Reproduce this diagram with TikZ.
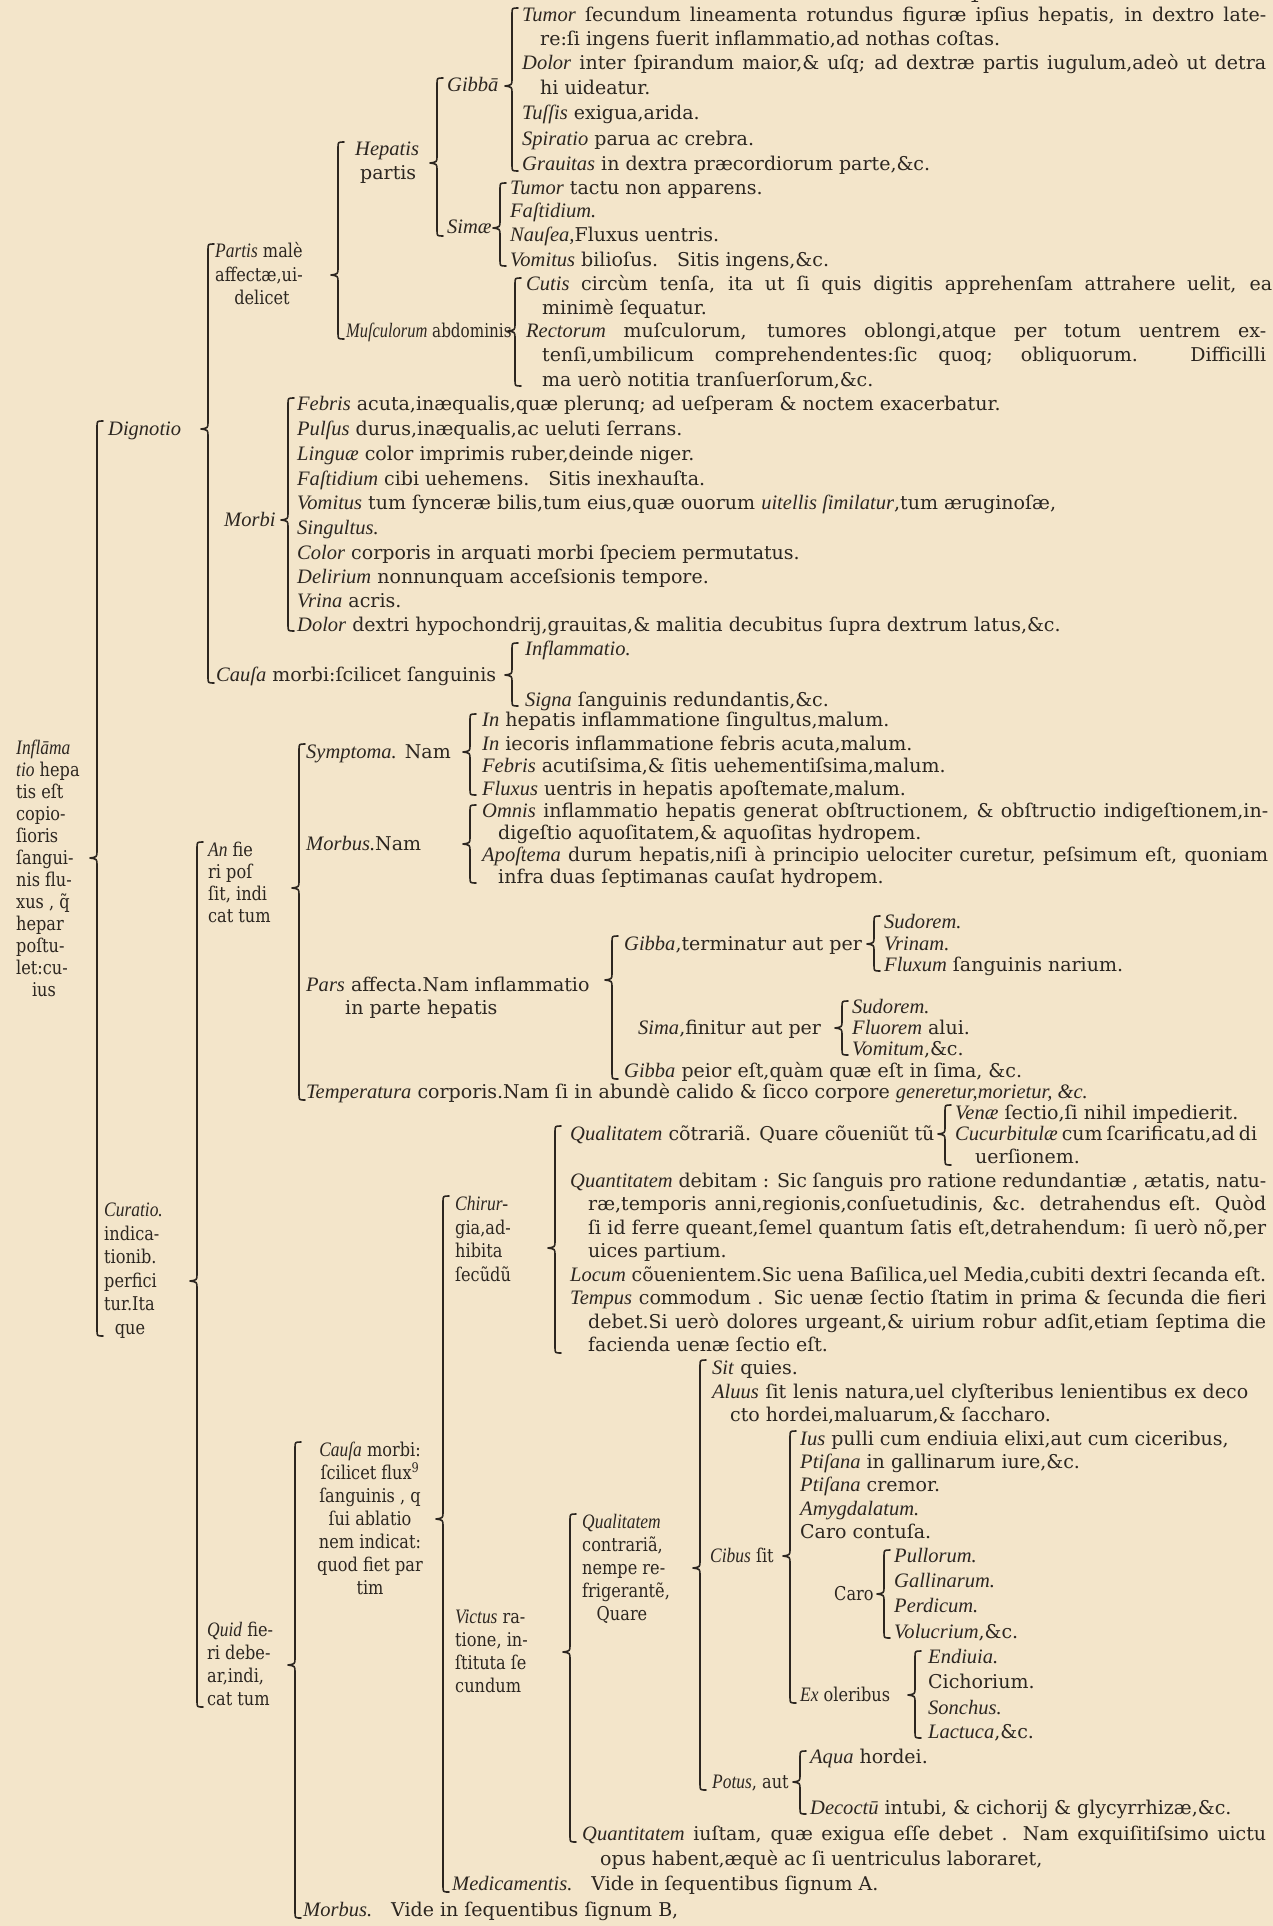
\documentclass[tikz,border=0pt]{standalone}
\usepackage{fontspec}
\usepackage{graphicx}
\setmainfont{DejaVu Serif}[ItalicFont={Liberation Serif Italic},ItalicFeatures={Scale=1.08}]
\definecolor{paper}{RGB}{243,229,202}
\definecolor{ink}{RGB}{44,38,32}
\newcommand\tfont{\fontsize{19}{22}\selectfont}
\newcommand\nar[1]{\scalebox{0.85}[1]{#1}}
\tikzset{
 tx/.style={anchor=base west,inner sep=0pt,yshift=-6pt,text=ink,font=\tfont},
 tc/.style={tx,anchor=base},
 brc/.style={draw=ink,line width=1.6pt,line cap=round,line join=round}}
\newsavebox\jbox
\newlength\jw
\newcommand\Tx[4]{\node[tx] (#1) at (#2,#3) {#4};}
\newcommand\Cx[4]{\node[tc] (#1) at (#2,#3) {#4};}
\newcommand\Jx[5]{%
 \setlength\jw{\dimexpr #4pt-#2pt\relax}%
 \sbox\jbox{\tfont #5}%
 \ifdim\wd\jbox>\jw
  \node[tx] (#1) at (#2,#3) {\resizebox{\jw}{\height}{\usebox\jbox}};%
 \else
  \node[tx] (#1) at (#2,#3) {\makebox[\jw][s]{#5}};%
 \fi}
\newcommand\Brc[4]{%
 \draw[brc] (#1+6,#2) .. controls (#1,#2) .. (#1,#2+6) -- (#1,#3-7)
   .. controls (#1,#3-1) .. (#1-7,#3) .. controls (#1,#3+1) .. (#1,#3+7)
   -- (#1,#4-6) .. controls (#1,#4) .. (#1+6,#4);}
\begin{document}
\begin{tikzpicture}[x=1pt,y=-1pt]
\useasboundingbox (0,0) rectangle (1273,1926);
\fill[paper] (0,0) rectangle (1273,1926);
\Cx{pg}{975}{-3}{1}
% ---------- Gibba
\Jx{g1}{522}{16}{1266}{\textit{Tumor} ſecundum lineamenta rotundus figuræ ipſius hepatis, in dextro late-}
\Tx{g2}{540}{40}{re:ſi ingens fuerit inflammatio,ad nothas coſtas.}
\Jx{g3}{522}{64}{1266}{\textit{Dolor} inter ſpirandum maior,\& uſq; ad dextræ partis iugulum,adeò ut detra}
\Tx{g4}{540}{89}{hi uideatur.}
\Tx{g5}{522}{114}{\textit{Tuſſis} exigua,arida.}
\Tx{g6}{522}{140}{\textit{Spiratio} parua ac crebra.}
\Tx{g7}{522}{165}{\textit{Grauitas} in dextra præcordiorum parte,\&c.}
\Brc{512}{8}{86}{171}
\Tx{gibba}{447}{86}{\textit{Gibbā}}
% ---------- Sima
\Tx{s1}{510}{189}{\textit{Tumor} tactu non apparens.}
\Tx{s2}{510}{212}{\textit{Faſtidium.}}
\Tx{s3}{510}{236}{\textit{Nauſea,}Fluxus uentris.}
\Tx{s4}{510}{260}{\textit{Vomitus} bilioſus.\quad Sitis ingens,\&c.}
\Brc{500}{183}{228}{266}
\Tx{sima}{447}{228}{\textit{Simæ}}
% ---------- Hepatis
\Brc{437}{78}{163}{236}
\Tx{hep1}{355}{150}{\textit{Hepatis}}
\Tx{hep2}{360}{174}{partis}
% ---------- Musculorum
\Tx{mus}{346}{331}{\scalebox{0.8}[1]{\textit{Muſculorum} abdominis}}
\Brc{515}{278}{331}{386}
\Jx{m1}{526}{284}{1272}{\textit{Cutis} circùm tenſa, ita ut ſi quis digitis apprehenſam attrahere uelit, ea}
\Tx{m2}{542}{308}{minimè ſequatur.}
\Jx{m3}{526}{331}{1266}{\textit{Rectorum} muſculorum, tumores oblongi,atque per totum uentrem ex-}
\Jx{m4}{542}{355}{1266}{tenſi,umbilicum comprehendentes:ſic quoq; obliquorum. Difficilli}
\Tx{m5}{542}{380}{ma uerò notitia tranſuerſorum,\&c.}
% ---------- Partis male affectae
\Brc{338}{142}{275}{339}
\Tx{par1}{215}{252}{\nar{\textit{Partis} malè}}
\Tx{par2}{215}{275}{\nar{affectæ,ui-}}
\Cx{par3}{262}{298}{\nar{delicet}}
% ---------- Morbi
\Tx{morbi}{224}{520}{\textit{Morbi}}
\Brc{288}{398}{520}{631}
\Tx{b1}{297}{404}{\textit{Febris} acuta,inæqualis,quæ plerunq; ad ueſperam \& noctem exacerbatur.}
\Tx{b2}{297}{429}{\textit{Pulſus} durus,inæqualis,ac ueluti ſerrans.}
\Tx{b3}{297}{454}{\textit{Linguæ} color imprimis ruber,deinde niger.}
\Tx{b4}{297}{479}{\textit{Faſtidium} cibi uehemens.\quad Sitis inexhauſta.}
\Tx{b5}{297}{503}{\textit{Vomitus} tum ſynceræ bilis,tum eius,quæ ouorum \textit{uitellis ſimilatur},tum æruginoſæ,}
\Tx{b6}{297}{528}{\textit{Singultus.}}
\Tx{b7}{297}{553}{\textit{Color} corporis in arquati morbi ſpeciem permutatus.}
\Tx{b8}{297}{577}{\textit{Delirium} nonnunquam acceſsionis tempore.}
\Tx{b9}{297}{601}{\textit{Vrina} acris.}
\Tx{b10}{297}{625}{\textit{Dolor} dextri hypochondrij,grauitas,\& malitia decubitus ſupra dextrum latus,\&c.}
% ---------- Causa (dignotio)
\Tx{cau}{216}{675}{\textit{Cauſa} morbi:ſcilicet ſanguinis}
\Brc{512}{643}{675}{706}
\Tx{c1}{525}{649}{\textit{Inflammatio.}}
\Tx{c2}{525}{700}{\textit{Signa} ſanguinis redundantis,\&c.}
% ---------- Dignotio
\Brc{208}{244}{429}{683}
\Tx{dig}{108}{429}{\textit{Dignotio}}
% ---------- Root
\Brc{97}{421}{858}{1336}
\Tx{r1}{16}{748}{\nar{\textit{Inflāma}}}
\Tx{r2}{16}{770}{\nar{\textit{tio} hepa}}
\Tx{r3}{16}{792}{\nar{tis eſt}}
\Tx{r4}{16}{814}{\nar{copio-}}
\Tx{r5}{16}{836}{\nar{ſioris}}
\Tx{r6}{16}{858}{\nar{ſangui-}}
\Tx{r7}{16}{880}{\nar{nis flu-}}
\Tx{r8}{16}{902}{\nar{xus , q̃}}
\Tx{r9}{16}{924}{\nar{hepar}}
\Tx{r10}{16}{946}{\nar{poſtu-}}
\Tx{r11}{16}{968}{\nar{let:cu-}}
\Cx{r12}{44}{990}{\nar{ius}}
% ---------- Symptoma
\Tx{sym}{306}{752}{\textit{Symptoma.} Nam}
\Brc{470}{714}{752}{795}
\Tx{y1}{482}{720}{\textit{In} hepatis inflammatione ſingultus,malum.}
\Tx{y2}{482}{744}{\textit{In} iecoris inflammatione febris acuta,malum.}
\Tx{y3}{482}{766}{\textit{Febris} acutiſsima,\& ſitis uehementiſsima,malum.}
\Tx{y4}{482}{789}{\textit{Fluxus} uentris in hepatis apoſtemate,malum.}
% ---------- Morbus
\Tx{mor}{306}{844}{\textit{Morbus.}Nam}
\Brc{470}{805}{844}{883}
\Jx{o1}{482}{811}{1268}{\textit{Omnis} inflammatio hepatis generat obſtructionem, \& obſtructio indigeſtionem,in-}
\Tx{o2}{498}{833}{digeſtio aquoſitatem,\& aquoſitas hydropem.}
\Jx{o3}{482}{855}{1268}{\textit{Apoſtema} durum hepatis,niſi à principio uelociter curetur, peſsimum eſt, quoniam}
\Tx{o4}{498}{877}{infra duas ſeptimanas cauſat hydropem.}
% ---------- Pars affecta
\Tx{pa1}{306}{985}{\textit{Pars} affecta.Nam inflammatio}
\Tx{pa2}{345}{1008}{in parte hepatis}
\Brc{612}{936}{980}{1079}
\Tx{gt}{624}{944}{\textit{Gibba},terminatur aut per}
\Brc{874}{916}{944}{971}
\Tx{gt1}{884}{922}{\textit{Sudorem.}}
\Tx{gt2}{884}{944}{\textit{Vrinam.}}
\Tx{gt3}{884}{965}{\textit{Fluxum} ſanguinis narium.}
\Tx{sf}{638}{1028}{\textit{Sima},finitur aut per}
\Brc{842}{1001}{1028}{1055}
\Tx{sf1}{852}{1007}{\textit{Sudorem.}}
\Tx{sf2}{852}{1028}{\textit{Fluorem} alui.}
\Tx{sf3}{852}{1049}{\textit{Vomitum},\&c.}
\Tx{gp}{624}{1071}{\textit{Gibba} peior eſt,quàm quæ eſt in ſima, \&c.}
% ---------- Temperatura
\Tx{tem}{306}{1092}{\textit{Temperatura} corporis.Nam ſi in abundè calido \& ſicco corpore \textit{generetur,morietur, \&c.}}
% ---------- An fieri
\Brc{299}{744}{888}{1100}
\Tx{an1}{208}{850}{\nar{\textit{An} fie}}
\Tx{an2}{208}{872}{\nar{ri poſ}}
\Tx{an3}{208}{894}{\nar{ſit, indi}}
\Tx{an4}{208}{916}{\nar{cat tum}}
% ---------- Curatio
\Brc{197}{842}{1281}{1707}
\Tx{cu1}{104}{1210}{\nar{\textit{Curatio.}}}
\Tx{cu2}{104}{1234}{\nar{indica-}}
\Tx{cu3}{104}{1257}{\nar{tionib.}}
\Tx{cu4}{104}{1281}{\nar{perfici}}
\Tx{cu5}{104}{1304}{\nar{tur.Ita}}
\Cx{cu6}{130}{1328}{\nar{que}}
% ---------- Quid fieri
\Brc{295}{1442}{1665}{1918}
\Tx{q1}{207}{1630}{\nar{\textit{Quid} fie-}}
\Tx{q2}{207}{1653}{\nar{ri debe-}}
\Tx{q3}{207}{1676}{\nar{ar,indi,}}
\Tx{q4}{207}{1699}{\nar{cat tum}}
% ---------- Causa morbi (curatio)
\Cx{k1}{370}{1450}{\nar{\textit{Cauſa} morbi:}}
\Cx{k2}{370}{1473}{\nar{ſcilicet flux\textsuperscript{9}}}
\Cx{k3}{370}{1496}{\nar{ſanguinis , q}}
\Cx{k4}{370}{1519}{\nar{ſui ablatio}}
\Cx{k5}{370}{1542}{\nar{nem indicat:}}
\Cx{k6}{370}{1565}{\nar{quod fiet par}}
\Cx{k7}{370}{1588}{\nar{tim}}
\Brc{443}{1196}{1519}{1892}
% ---------- Chirurgia
\Tx{ch1}{455}{1204}{\nar{\textit{Chirur-}}}
\Tx{ch2}{455}{1228}{\nar{gia,ad-}}
\Tx{ch3}{455}{1251}{\nar{hibita}}
\Tx{ch4}{455}{1275}{\nar{ſecũdũ}}
\Brc{555}{1126}{1248}{1353}
\Tx{ql}{570}{1134}{\textit{Qualitatem} cõtrariã. Quare cõueniũt tũ}
\Brc{945}{1105}{1134}{1165}
\Tx{ql1}{955}{1113}{\textit{Venæ} ſectio,ſi nihil impedierit.}
\Jx{ql2}{955}{1134}{1252}{\textit{Cucurbitulæ} cum ſcarificatu,ad di}
\Tx{ql3}{975}{1157}{uerſionem.}
\Jx{qn1}{570}{1181}{1266}{\textit{Quantitatem} debitam : Sic ſanguis pro ratione redundantiæ , ætatis, natu-}
\Jx{qn2}{588}{1204}{1266}{ræ,temporis anni,regionis,conſuetudinis, \&c. detrahendus eſt. Quòd}
\Jx{qn3}{588}{1228}{1266}{ſi id ferre queant,ſemel quantum ſatis eſt,detrahendum: ſi uerò nõ,per}
\Tx{qn4}{588}{1251}{uices partium.}
\Jx{lo}{570}{1275}{1266}{\textit{Locum} cõuenientem.Sic uena Baſilica,uel Media,cubiti dextri ſecanda eſt.}
\Jx{te1}{570}{1298}{1266}{\textit{Tempus} commodum . Sic uenæ ſectio ſtatim in prima \& ſecunda die fieri}
\Jx{te2}{588}{1322}{1266}{debet.Si uerò dolores urgeant,\& uirium robur adſit,etiam ſeptima die}
\Tx{te3}{588}{1345}{facienda uenæ ſectio eſt.}
% ---------- Victus
\Tx{v1}{455}{1617}{\nar{\textit{Victus} ra-}}
\Tx{v2}{455}{1640}{\nar{tione, in-}}
\Tx{v3}{455}{1663}{\nar{ſtituta ſe}}
\Tx{v4}{455}{1686}{\nar{cundum}}
\Brc{570}{1514}{1652}{1842}
\Tx{qa1}{582}{1522}{\nar{\textit{Qualitatem}}}
\Tx{qa2}{582}{1545}{\nar{contrariã,}}
\Tx{qa3}{582}{1568}{\nar{nempe re-}}
\Tx{qa4}{582}{1591}{\nar{frigerantẽ,}}
\Cx{qa5}{622}{1614}{\nar{Quare}}
\Brc{700}{1360}{1568}{1790}
\Tx{sq}{712}{1368}{\textit{Sit} quies.}
\Jx{al1}{712}{1392}{1248}{\textit{Aluus} ſit lenis natura,uel clyſteribus lenientibus ex deco}
\Tx{al2}{730}{1415}{cto hordei,maluarum,\& ſaccharo.}
\Tx{cib}{710}{1556}{\nar{\textit{Cibus} ſit}}
\Brc{790}{1431}{1556}{1703}
\Tx{ci1}{800}{1439}{\textit{Ius} pulli cum endiuia elixi,aut cum ciceribus,}
\Tx{ci2}{800}{1462}{\textit{Ptiſana} in gallinarum iure,\&c.}
\Tx{ci3}{800}{1485}{\textit{Ptiſana} cremor.}
\Tx{ci4}{800}{1509}{\textit{Amygdalatum.}}
\Tx{ci5}{800}{1532}{Caro contuſa.}
\Tx{caro}{834}{1594}{\nar{Caro}}
\Brc{884}{1550}{1594}{1638}
\Tx{ca1}{894}{1556}{\textit{Pullorum.}}
\Tx{ca2}{894}{1581}{\textit{Gallinarum.}}
\Tx{ca3}{894}{1606}{\textit{Perdicum.}}
\Tx{ca4}{894}{1632}{\textit{Volucrium},\&c.}
\Tx{ex}{800}{1695}{\nar{\textit{Ex} oleribus}}
\Brc{915}{1651}{1695}{1738}
\Tx{ex1}{928}{1657}{\textit{Endiuia.}}
\Tx{ex2}{928}{1682}{Cichorium.}
\Tx{ex3}{928}{1708}{\textit{Sonchus.}}
\Tx{ex4}{928}{1732}{\textit{Lactuca},\&c.}
\Tx{pot}{712}{1782}{\nar{\textit{Potus}, aut}}
\Brc{800}{1751}{1782}{1814}
\Tx{po1}{810}{1757}{\textit{Aqua} hordei.}
\Tx{po2}{810}{1808}{\textit{Decoctū} intubi, \& cichorij \& glycyrrhizæ,\&c.}
\Jx{qi1}{582}{1834}{1266}{\textit{Quantitatem} iuſtam, quæ exigua eſſe debet . Nam exquiſitiſsimo uictu}
\Tx{qi2}{600}{1859}{opus habent,æquè ac ſi uentriculus laboraret,}
\Tx{med}{452}{1884}{\textit{Medicamentis.}\quad Vide in ſequentibus ſignum A.}
\Tx{mb}{303}{1910}{\textit{Morbus.}\quad Vide in ſequentibus ſignum B,}
\end{tikzpicture}
\end{document}
